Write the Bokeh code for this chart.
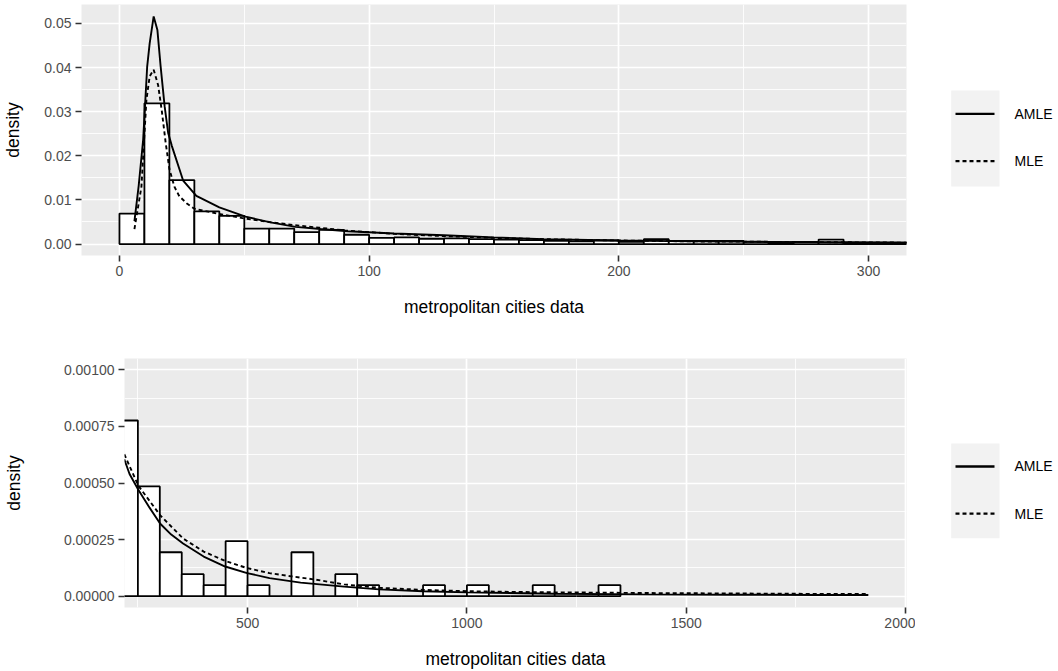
from bokeh.plotting import figure
from bokeh.layouts import column, row
from bokeh.models import FixedTicker, NumeralTickFormatter, Range1d
from bokeh.embed import file_html
from bokeh.resources import INLINE

FONT = "Liberation Sans"

# ---------------- data: top panel (bin width 10) ----------------
top_bin_left = list(range(0, 320, 10))
top_density = [0.0069, 0.0319, 0.0145, 0.0074, 0.0064, 0.0035, 0.0035, 0.0027,
               0.0032, 0.0021, 0.0014, 0.0015, 0.0012, 0.0013, 0.0011, 0.0010,
               0.0009, 0.0007, 0.0006, 0.0008, 0.0005, 0.0011, 0.0007, 0.0007,
               0.0007, 0.0005, 0.0003, 0.0005, 0.0010, 0.0003, 0.0003, 0.0003]
top_binwidth = 10

top_amle_x = [6, 7.7, 9.5, 11.1, 12.1, 13.7, 15.2, 16.5, 18.1, 19.5, 21, 25.5, 30.8,
              40, 50.5, 60.5, 70.5, 80.5, 91.5, 110, 130, 150, 170, 200, 230, 260,
              290, 320]
top_amle_y = [0.0052, 0.0132, 0.0237, 0.0402, 0.0455, 0.0516, 0.0485, 0.0402, 0.0312,
              0.0252, 0.0222, 0.0144, 0.0109, 0.0083, 0.0062, 0.0049, 0.0039, 0.0034,
              0.0029, 0.0024, 0.0020, 0.0015, 0.0011, 0.0008, 0.0006, 0.0005, 0.0004,
              0.0003]
top_mle_x = [6, 8.8, 10.8, 12.1, 13.7, 15.5, 17, 18.5, 20, 22, 24, 27, 30, 40, 50,
             60, 70, 80, 90, 110, 130, 150, 170, 200, 230, 260, 290, 320]
top_mle_y = [0.0034, 0.013, 0.0327, 0.038, 0.0395, 0.036, 0.030, 0.023, 0.017, 0.013,
             0.0108, 0.0092, 0.0080, 0.0068, 0.0058, 0.0050, 0.0043, 0.0037, 0.0031,
             0.0023, 0.0018, 0.0014, 0.0011, 0.0008, 0.0006, 0.0005, 0.0004, 0.0003]

top_xticks = [0, 100, 200, 300]
top_xminor = [50, 150, 250]
top_yticks = [0.0, 0.01, 0.02, 0.03, 0.04, 0.05]
top_yminor = [0.005, 0.015, 0.025, 0.035, 0.045]

# ---------------- data: bottom panel (bin width 50) ----------------
bot_bin_left = list(range(200, 1350, 50))
bot_density = [0.000776, 0.000485, 0.000194, 0.000097, 0.0000485, 0.000243,
               0.0000485, 0.0, 0.000194, 0.0, 0.000097, 0.0000485, 0.0, 0.0,
               0.0000485, 0.0, 0.0000485, 0.0, 0.0, 0.0000485, 0.0, 0.0, 0.0000485]
bot_binwidth = 50

bot_amle_x = [219, 231, 251, 277, 301, 326, 353, 400, 449, 499, 550, 621, 720, 800,
              900, 1000, 1200, 1400, 1600, 1800, 1915]
bot_amle_y = [0.000605, 0.00054, 0.00047, 0.00039, 0.00032, 0.000272, 0.000233,
              0.000175, 0.000131, 0.000102, 0.00008, 0.00006, 0.000042, 0.00003,
              0.000022, 0.000017, 0.000011, 0.000008, 0.0000065, 0.0000055, 0.000005]
bot_mle_x = [219, 251, 301, 353, 400, 449, 499, 550, 600, 656, 720, 800, 900, 1000,
             1100, 1200, 1400, 1600, 1800, 1915]
bot_mle_y = [0.000627, 0.000488, 0.000357, 0.000255, 0.000197, 0.000156, 0.000124,
             0.000102, 0.0000875, 0.0000729, 0.000052, 0.000037, 0.000028, 0.000022,
             0.000019, 0.000017, 0.000014, 0.000012, 0.00001, 0.0000095]

bot_xticks = [500, 1000, 1500, 2000]
bot_xminor = [250, 750, 1250, 1750]
bot_yticks = [0.0, 0.00025, 0.0005, 0.00075, 0.001]
bot_yminor = [0.000125, 0.000375, 0.000625, 0.000875]

series_labels = ["AMLE", "MLE"]
series_dash = ["solid", "4 3"]

XTITLE = "metropolitan cities data"
YTITLE = "density"


def make_panel(height, left, top, bottom, xr, yr, bins, dens, bw, curves,
               xticks, xminor, yticks, yminor, yfmt, ylab_standoff):
    p = figure(width=915, height=height, output_backend="svg", toolbar_location=None,
               x_range=Range1d(*xr), y_range=Range1d(*yr),
               min_border_left=left, min_border_right=9,
               min_border_top=top, min_border_bottom=bottom)
    p.background_fill_color = "#EBEBEB"
    p.border_fill_color = "white"
    p.outline_line_color = None

    p.xaxis.ticker = FixedTicker(ticks=xticks, minor_ticks=xminor)
    p.yaxis.ticker = FixedTicker(ticks=yticks, minor_ticks=yminor)
    p.yaxis.formatter = NumeralTickFormatter(format=yfmt)
    for g in (p.xgrid, p.ygrid):
        g.grid_line_color = "white"
        g.grid_line_width = 1.7
        g.minor_grid_line_color = "white"
        g.minor_grid_line_width = 0.85
    for ax in (p.xaxis, p.yaxis):
        ax.axis_line_color = None
        ax.major_tick_line_color = "#333333"
        ax.major_tick_line_width = 1.6
        ax.major_tick_out = 6
        ax.major_tick_in = 0
        ax.minor_tick_line_color = None
        ax.major_label_text_font = FONT
        ax.major_label_text_font_size = "14px"
        ax.major_label_text_color = "#4D4D4D"
        ax.axis_label_text_font = FONT
        ax.axis_label_text_font_size = "17.5px"
        ax.axis_label_text_font_style = "normal"
        ax.axis_label_text_color = "black"
        ax.major_label_standoff = 4
    p.xaxis.axis_label = XTITLE
    p.yaxis.axis_label = YTITLE
    p.xaxis.axis_label_standoff = 18
    p.yaxis.axis_label_standoff = ylab_standoff

    rights = [b + bw for b in bins]
    p.quad(left=bins, right=rights, top=dens, bottom=0, fill_color="white",
           line_color="black", line_width=1.8)
    for (cx, cy), dash in zip(curves, series_dash):
        p.line(cx, cy, line_color="black", line_width=1.9, line_dash=dash)
    return p


def make_legend(height, frame_top, frame_bottom, box_top, box_bottom, y1, y2):
    # frame of this figure is aligned with the neighbouring panel's frame
    q = figure(width=143, height=height, output_backend="svg", toolbar_location=None,
               x_range=Range1d(0, 143), y_range=Range1d(frame_bottom, frame_top),
               min_border=0, min_border_left=0, min_border_right=0,
               min_border_top=0, min_border_bottom=0)
    q.axis.visible = False
    q.grid.visible = False
    q.outline_line_color = None
    q.background_fill_color = "white"
    q.border_fill_color = "white"
    q.quad(left=[35.7], right=[84], top=[box_top], bottom=[box_bottom],
           fill_color="#F2F2F2", line_color=None)
    for yy, dash in zip((y1, y2), series_dash):
        q.line([40, 79], [yy, yy], line_color="black", line_width=2.3, line_dash=dash)
    q.text(x=[99, 99], y=[y1, y2], text=series_labels, text_font_size="14px",
           text_baseline="middle", text_align="left", text_color="black",
           text_font={"value": FONT})
    return q


top = make_panel(335, 81, 4, 80, (-15.2, 315.2), (-0.0026, 0.0543),
                 top_bin_left, top_density, top_binwidth,
                 [(top_amle_x, top_amle_y), (top_mle_x, top_mle_y)],
                 top_xticks, top_xminor, top_yticks, top_yminor, "0.00", 18)
bot = make_panel(336, 123, 23, 61, (219.5, 2002), (-0.00005, 0.00105),
                 bot_bin_left, bot_density, bot_binwidth,
                 [(bot_amle_x, bot_amle_y), (bot_mle_x, bot_mle_y)],
                 bot_xticks, bot_xminor, bot_yticks, bot_yminor, "0.00000", 37)

leg_top = make_legend(335, 4, 255, 90, 186, 113.3, 160.7)
leg_bot = make_legend(336, 23, 275, 109, 205, 132.3, 180)

layout = column(row(top, leg_top), row(bot, leg_bot))
open("out.html", "w").write(file_html(layout, INLINE))
